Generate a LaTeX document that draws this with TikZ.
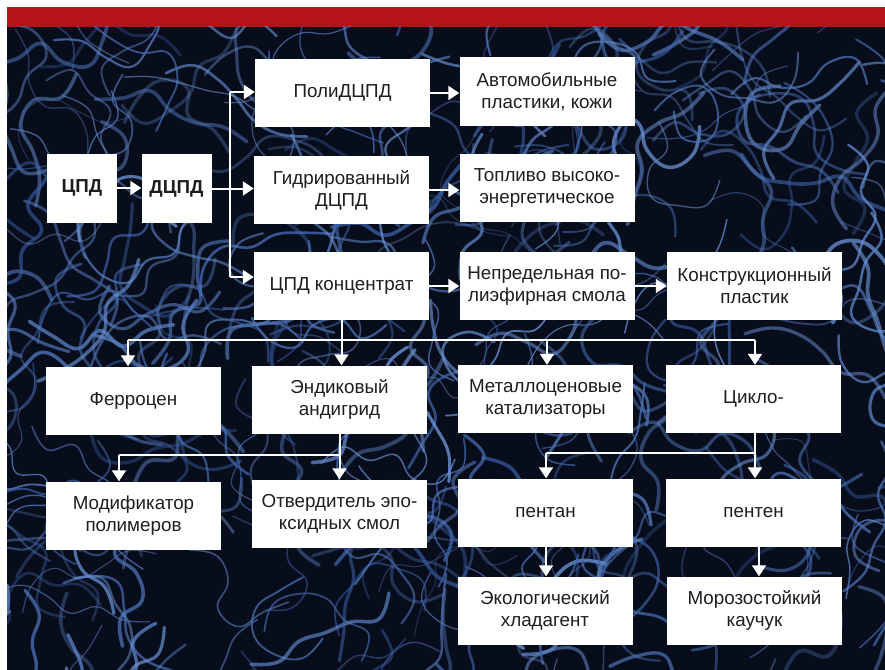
\documentclass[tikz,border=0pt]{standalone}
\usepackage{fontspec}
\setmainfont{Liberation Sans}
\usetikzlibrary{arrows.meta,calc}
\definecolor{topred}{RGB}{183,18,26}
\definecolor{bgdark}{RGB}{8,13,28}
\definecolor{swirlA}{RGB}{55,92,165}
\definecolor{swirlB}{RGB}{110,150,215}
\definecolor{txt}{RGB}{30,30,30}
\tikzset{
  box/.style={rectangle, fill=white, inner sep=0pt, minimum width=175pt, minimum height=68pt,
    align=center, text=txt, font=\fontsize{18.8}{22}\selectfont},
  smallbox/.style={box, minimum width=70pt, minimum height=69pt, font=\bfseries\fontsize{18.8}{22}\selectfont},
  conn/.style={draw=white, line width=2pt},
  arr/.style={conn, -{Triangle[width=14pt,length=11pt]}},
}
\begin{document}
\begin{tikzpicture}[x=1pt,y=-1pt]
\useasboundingbox (0,0) rectangle (885,669);
\fill[white] (0,0) rectangle (885,669);
\fill[topred] (7,7) rectangle (885,27);
\fill[bgdark] (7,27) rectangle (886,670);
% background swirl texture
\pgfmathsetseed{4242}
\begin{scope}
\clip (7,27) rectangle (886,670);
\foreach \i in {1,...,380}{
  \pgfmathsetmacro\xa{rnd*940-30}
  \pgfmathsetmacro\ya{rnd*700-10}
  \pgfmathsetmacro\aa{rnd*360}
  \pgfmathsetmacro\xb{\xa+28*cos(\aa)}
  \pgfmathsetmacro\yb{\ya+28*sin(\aa)}
  \pgfmathsetmacro\ab{\aa+rnd*150-75}
  \pgfmathsetmacro\xc{\xb+28*cos(\ab)}
  \pgfmathsetmacro\yc{\yb+28*sin(\ab)}
  \pgfmathsetmacro\ac{\ab+rnd*150-75}
  \pgfmathsetmacro\xd{\xc+28*cos(\ac)}
  \pgfmathsetmacro\yd{\yc+28*sin(\ac)}
  \pgfmathsetmacro\ad{\ac+rnd*150-75}
  \pgfmathsetmacro\xe{\xd+28*cos(\ad)}
  \pgfmathsetmacro\ye{\yd+28*sin(\ad)}
  \pgfmathsetmacro\ae{\ad+rnd*150-75}
  \pgfmathsetmacro\xf{\xe+28*cos(\ae)}
  \pgfmathsetmacro\yf{\ye+28*sin(\ae)}
  \pgfmathsetmacro\af{\ae+rnd*150-75}
  \pgfmathsetmacro\xg{\xf+28*cos(\af)}
  \pgfmathsetmacro\yg{\yf+28*sin(\af)}
  \pgfmathsetmacro\op{0.3+0.5*rnd}
  \pgfmathsetmacro\lw{1+2.8*rnd}
  \pgfmathsetmacro\mx{100*rnd}
  \draw[line width=\lw pt, draw opacity=\op, color=swirlB!\mx!swirlA, line cap=round]
    plot[smooth, tension=0.7] coordinates {(\xa,\ya) (\xb,\yb) (\xc,\yc) (\xd,\yd) (\xe,\ye) (\xf,\yf) (\xg,\yg)};
}
\end{scope}
% nodes
\node[smallbox] (cpd) at (82,188) {ЦПД};
\node[smallbox] (dcpd) at (176.5,188.5) {ДЦПД};
\node[box] (poly) at (342.5,93) {ПолиДЦПД};
\node[box] (hydr) at (341.5,190) {Гидрированный\\ДЦПД};
\node[box] (conc) at (341.5,286) {ЦПД концентрат};
\node[box] (auto) at (547,91.5) {Автомобильные\\пластики, кожи};
\node[box] (fuel) at (547,188) {Топливо высоко-\\энергетическое};
\node[box] (unsat) at (547,286) {Непредельная по-\\лиэфирная смола};
\node[box] (constr) at (754.5,286) {Конструкционный\\пластик};
\node[box] (ferro) at (133.5,400.5) {Ферроцен};
\node[box] (endic) at (339.5,399.5) {Эндиковый\\андигрид};
\node[box] (metal) at (545.5,399) {Металлоценовые\\катализаторы};
\node[box] (cyclo) at (753.5,399) {Цикло-};
\node[box] (modif) at (133.5,515.5) {Модификатор\\полимеров};
\node[box] (hard) at (339.5,513.5) {Отвердитель эпо-\\ксидных смол};
\node[box] (pentan) at (545.5,512.5) {пентан};
\node[box] (penten) at (753.5,512.5) {пентен};
\node[box] (eco) at (545,610.5) {Экологический\\хладагент};
\node[box] (frost) at (754.5,610.5) {Морозостойкий\\каучук};
% connectors, top part
\draw[arr] (cpd.east) -- (cpd.east -| dcpd.west);
\draw[arr] (dcpd.east) -- (dcpd.east -| hydr.west);
\coordinate (jtop) at (230,92);
\coordinate (jbot) at (230,277);
\draw[conn] (jtop) -- (jbot);
\draw[arr] (jtop) -- (jtop -| poly.west);
\draw[arr] (jbot) -- (jbot -| conc.west);
\draw[arr] (poly.east) -- (poly.east -| auto.west);
\draw[arr] (hydr.east) -- (hydr.east -| fuel.west);
\draw[arr] (conc.east) -- (conc.east -| unsat.west);
\draw[arr] (unsat.east) -- (unsat.east -| constr.west);
% bus 1
\coordinate (b1L) at (128,340);
\coordinate (b1R) at (755,340);
\coordinate (b1M) at (547,340);
\draw[conn] (conc.south) -- (conc.south |- b1L);
\draw[conn] (b1L) -- (b1R);
\draw[arr] (b1L) -- (b1L |- ferro.north);
\draw[arr] (conc.south |- b1L) -- (conc.south |- endic.north);
\draw[arr] (b1M) -- (b1M |- metal.north);
\draw[arr] (b1R) -- (b1R |- cyclo.north);
% bus 2
\coordinate (b2L) at (119,455);
\draw[conn] (endic.south) -- (endic.south |- b2L) -- (b2L);
\draw[arr] (b2L) -- (b2L |- modif.north);
\draw[arr] (endic.south |- b2L) -- (endic.south |- hard.north);
% bus 3
\coordinate (b3L) at (546,453);
\coordinate (b3R) at (755,453);
\draw[conn] (b3R |- cyclo.south) -- (b3R) -- (b3L);
\draw[arr] (b3L) -- (b3L |- pentan.north);
\draw[arr] (b3R) -- (b3R |- penten.north);
% lower arrows
\coordinate (pe) at (546,0);
\coordinate (pf) at (759,0);
\draw[arr] (pe |- pentan.south) -- (pe |- eco.north);
\draw[arr] (pf |- penten.south) -- (pf |- frost.north);
\end{tikzpicture}
\end{document}
